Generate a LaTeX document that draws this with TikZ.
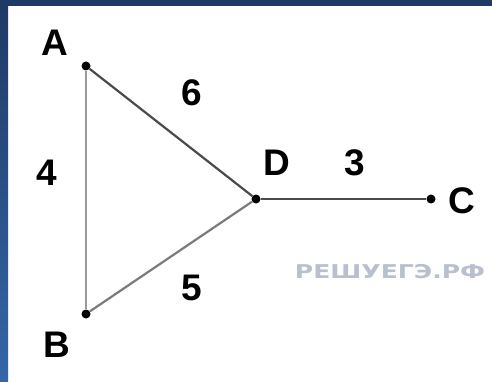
\documentclass[tikz,border=0pt]{standalone}
\usepackage{fontspec}
\setmainfont{Liberation Sans}
\newfontfamily\wmfont[FakeStretch=1.32]{DejaVu Sans}
\usetikzlibrary{positioning}
\definecolor{FrameTop}{HTML}{1F3A64}
\definecolor{FrameBot}{HTML}{3666A6}
\definecolor{EdgeDark}{HTML}{4A4A4A}
\definecolor{EdgeLight}{HTML}{9A9A9A}
\definecolor{MarkGray}{HTML}{B8C0CF}

\begin{document}
\begin{tikzpicture}[x=1pt, y=1pt,
  vertex/.style={circle, fill=black, inner sep=0pt, minimum size=9pt},
  lbl/.style={font=\fontsize{37}{37}\selectfont\bfseries, inner sep=0pt},
  edge/.style={line width=2.2pt, draw=EdgeDark}]
  \useasboundingbox (0,0) rectangle (492,381);
  % frame
  \fill[white] (0,0) rectangle (492,381);
  \shade[top color=FrameTop, bottom color=FrameBot] (0,0) rectangle (8,381);
  \fill[FrameTop] (0,375) rectangle (492,381);
  % vertices
  \node[vertex] (A) at (86,315) {};
  \node[vertex] (B) at (86,67) {};
  \node[vertex] (D) at (256,182) {};
  \node[vertex] (C) at (431,182) {};
  % edges
  \draw[edge, draw=EdgeLight, line width=2.8pt] (A) -- (B);
  \draw[edge] (A) -- (D);
  \draw[edge, draw=EdgeLight!80!black] (B) -- (D);
  \draw[edge] (D) -- (C);
  % vertex names
  \node[lbl] (nA) at (55,338) {A};
  \node[lbl] (nB) at (57,36) {B};
  \node[lbl] (nD) at (277,218) {D};
  \node[lbl] (nC) at (462,180) {C};
  % lengths
  \node[lbl] (w6) at (192,288) {6};
  \node[lbl] (w4) at (47,208) {4};
  \node[lbl] (w3) at (355,218) {3};
  \node[lbl] (w5) at (192,93) {5};
  % watermark
  \node[font=\wmfont\fontsize{19}{19}\selectfont\bfseries, text=MarkGray,
    inner sep=0pt] (mark) at (390,109) {РЕШУЕГЭ.РФ};
\end{tikzpicture}
\end{document}
